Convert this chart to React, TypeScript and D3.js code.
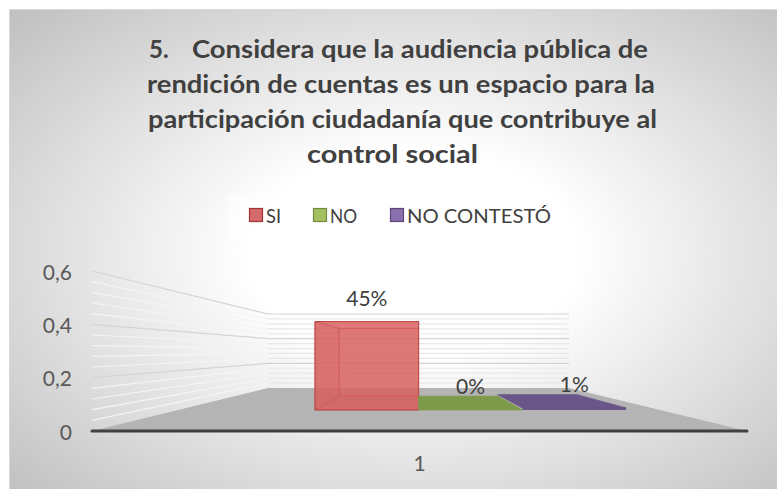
import React from "react";
import * as d3 from "d3";

const titleLines = [
  "Considera que la audiencia pública de",
  "rendición de cuentas es un espacio para la",
  "participación ciudadanía que contribuye al",
  "control social",
];
const titleNumber = "5.";
const seriesNames = ["SI", "NO", "NO CONTESTÓ"];
const seriesValues = [0.45, 0, 0.01];
const valueLabels = ["45%", "0%", "1%"];
const categories = ["1"];
const yMajorTicks = [0, 0.2, 0.4, 0.6];
const yTickLabels = ["0", "0,2", "0,4", "0,6"];
const legendFill = ["#d26b6a", "#a2c060", "#8a70ae"];
const legendStroke = ["#a3312f", "#71893f", "#5c4776"];
const topFill = ["#d16968", "#7d9a4a", "#6a5689"];

const W = 777;
const H = 489;

export default function App() {
  const yFront = d3.scaleLinear().domain([0, 0.6]).range([431, 271]);
  const yBack = d3.scaleLinear().domain([0, 0.6]).range([388, 314]);
  const xLeft = d3.scaleLinear().domain([0, 1]).range([92, 268]);
  const xRight = d3.scaleLinear().domain([0, 1]).range([747, 569]);
  const band = d3.scaleBand<string>().domain(seriesNames).range([0.284, 0.93]);
  const minorTicks = d3.range(0, 0.6001, 0.04);

  const proj = (u: number, z: number, v: number): [number, number] => {
    const yf = yFront(0) * (1 - z) + yBack(0) * z;
    const h = (yFront(0) - yFront(v)) * (1 - z) + (yBack(0) - yBack(v)) * z;
    const xl = xLeft(z);
    const xr = xRight(z);
    return [xl + u * (xr - xl), yf - h];
  };
  const poly = (pts: [number, number][]) => pts.map((p) => p.join(",")).join(" ");

  const z0 = 0.49;
  const z1 = 0.81;

  const titleX = [192, 147, 148, 307];
  const titleW = [456, 508, 509, 171];
  const titleY = [58, 93, 128, 163];

  const legendX = [249, 313, 390];
  const legendTextW = [15, 27, 144];

  return (
    <svg
      width={W}
      height={H}
      style={{ position: "absolute", left: 0, top: 0, fontFamily: "Lato, 'Open Sans', sans-serif" }}
    >
      <defs>
        <radialGradient id="bg" cx="0.52" cy="0.5" r="0.7">
          <stop offset="0" stopColor="#ffffff" />
          <stop offset="0.3" stopColor="#ffffff" />
          <stop offset="1" stopColor="#c2c2c2" />
        </radialGradient>
      </defs>
      <rect x={0} y={0} width={W} height={H} fill="#ffffff" />
      <rect x={9.5} y={9.5} width={W} height={H} fill="url(#bg)" stroke="#d9d9d9" strokeWidth={1} />

      {/* title */}
      <g fill="#404040" fontWeight="bold" fontSize={24}>
        <text x={149} y={titleY[0]}>{titleNumber}</text>
        {titleLines.map((t, i) => (
          <text key={i} x={titleX[i]} y={titleY[i]} textLength={titleW[i]} lengthAdjust="spacingAndGlyphs">
            {t}
          </text>
        ))}
      </g>

      {/* legend */}
      <rect x={227} y={194} width={330} height={44} fill="#ffffff" opacity={0.45} />
      {seriesNames.map((s, i) => (
        <g key={s}>
          <rect x={legendX[i] + 0.5} y={208.5} width={13} height={13} fill={legendFill[i]} stroke={legendStroke[i]} strokeWidth={1.2} />
          <text
            x={legendX[i] + 17}
            y={215}
            dominantBaseline="central"
            fontSize={20}
            fill="#404040"
            textLength={legendTextW[i]}
            lengthAdjust="spacingAndGlyphs"
          >
            {s}
          </text>
        </g>
      ))}

      {/* floor */}
      <polygon
        points={poly([proj(0, 0, 0), proj(0, 1, 0), proj(1, 1, 0), proj(1, 0, 0)])}
        fill="#b4b4b4"
      />

      {/* gridlines: side wall + back wall */}
      {minorTicks.map((v, i) => {
        const major = yMajorTicks.some((m) => Math.abs(m - v) < 1e-6);
        if (Math.abs(v) < 1e-6) return null;
        const a = proj(0, 0, v);
        const b = proj(0, 1, v);
        const c = proj(1, 1, v);
        return (
          <g key={i} fill="none" strokeWidth={1.2}>
            <line x1={a[0]} y1={a[1]} x2={b[0]} y2={b[1]} stroke={major ? "#d4d4d4" : "#f4f4f4"} />
            <line x1={b[0]} y1={b[1]} x2={c[0]} y2={c[1]} stroke={major ? "#d4d4d4" : "#e8e8e8"} />
          </g>
        );
      })}

      {/* bars */}
      {seriesNames.map((s, i) => {
        const u0 = band(s)!;
        const u1 = u0 + band.bandwidth();
        const v = seriesValues[i];
        if (i === 0) {
          const f00 = proj(u0, z0, 0), f10 = proj(u1, z0, 0), f11 = proj(u1, z0, v), f01 = proj(u0, z0, v);
          const b00 = proj(u0, z1, 0), b10 = proj(u1, z1, 0), b11 = proj(u1, z1, v), b01 = proj(u0, z1, v);
          return (
            <g key={s} stroke="#b8403e" strokeWidth={1} strokeOpacity={0.6}>
              <polygon points={poly([b00, b10, b11, b01])} fill="#c0504d" fillOpacity={0.3} />
              <polygon points={poly([f00, b00, b01, f01])} fill="#b84543" fillOpacity={0.4} />
              <polygon points={poly([f00, f10, b10, b00])} fill="#b84543" fillOpacity={0.4} />
              <polygon points={poly([f01, f11, b11, b01])} fill="#c0504d" fillOpacity={0.25} />
              <polygon points={poly([f00, f10, f11, f01])} fill="#d8625f" fillOpacity={0.78} stroke="#b8403e" strokeOpacity={0.9} />
            </g>
          );
        }
        const t = [proj(u0, z0, v), proj(u1, z0, v), proj(u1, z1, v), proj(u0, z1, v)];
        const f = [proj(u0, z0, 0), proj(u1, z0, 0), proj(u1, z0, v), proj(u0, z0, v)];
        return (
          <g key={s}>
            <polygon points={poly(f)} fill={topFill[i]} />
            <polygon points={poly(t)} fill={topFill[i]} stroke={topFill[i]} strokeWidth={0.8} />
          </g>
        );
      })}

      {/* value labels */}
      {seriesNames.map((s, i) => {
        const u = band(s)! + band.bandwidth() / 2;
        const [x, y] = proj(u, z0, seriesValues[i]);
        return (
          <text key={s} x={x} y={y - 24} textAnchor="middle" dominantBaseline="central" fontSize={21} fill="#404040">
            {valueLabels[i]}
          </text>
        );
      })}

      {/* axis line */}
      <line x1={proj(0, 0, 0)[0]} y1={yFront(0)} x2={proj(1, 0, 0)[0]} y2={yFront(0)} stroke="#404040" strokeWidth={3} strokeLinecap="round" />

      {/* y tick labels */}
      {yMajorTicks.map((v, i) => (
        <text key={v} x={72} y={yFront(v)} textAnchor="end" dominantBaseline="central" fontSize={21} fill="#595959">
          {yTickLabels[i]}
        </text>
      ))}

      {/* category label */}
      {categories.map((c) => (
        <text key={c} x={(xLeft(0) + xRight(0)) / 2} y={462} textAnchor="middle" dominantBaseline="central" fontSize={21} fill="#595959">
          {c}
        </text>
      ))}
    </svg>
  );
}
